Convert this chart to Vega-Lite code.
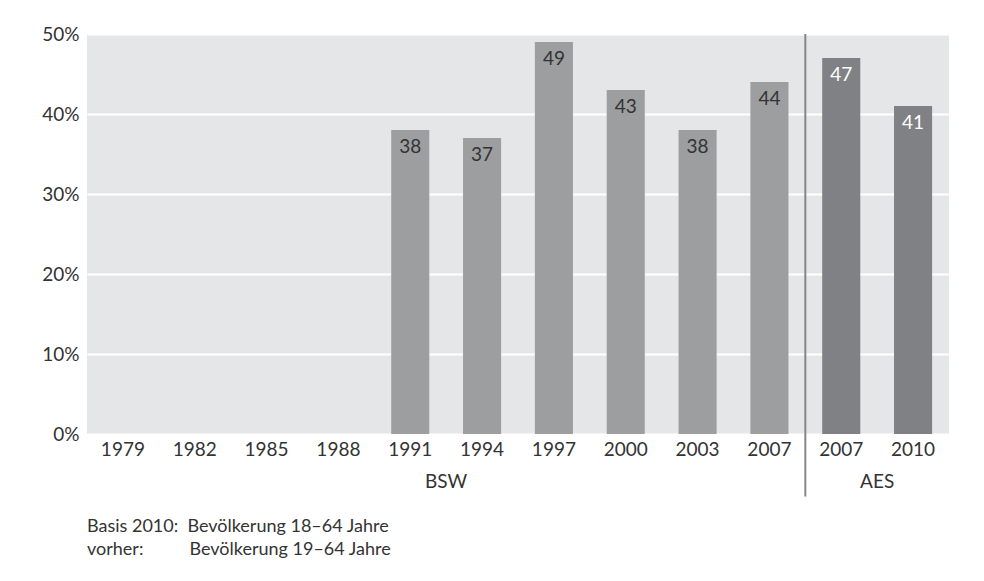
{
  "$schema": "https://vega.github.io/schema/vega-lite/v6.json",
  "autosize": {"type": "none"},
  "width": 862,
  "height": 400,
  "padding": {"left": 87, "top": 34, "right": 35, "bottom": 147},
  "background": "#ffffff",
  "config": {
    "font": "Lato",
    "view": {"fill": "#e5e6e8", "stroke": null},
    "axis": {"labelFont": "Lato", "labelColor": "#333333", "labelFontSize": 19}
  },
  "title": {
    "text": [
      "Basis 2010:\u00a0\u00a0Bevölkerung 18–64 Jahre",
      "vorher:\u00a0\u00a0\u00a0\u00a0\u00a0\u00a0\u00a0\u00a0\u00a0\u00a0Bevölkerung 19–64 Jahre"
    ],
    "orient": "bottom",
    "anchor": "start",
    "frame": "group",
    "font": "Lato",
    "fontSize": 18,
    "fontWeight": "normal",
    "color": "#333333",
    "lineHeight": 23,
    "offset": 21
  },
  "datasets": {
    "bars": [
      {"slot": "1991", "study": "BSW", "value": 38},
      {"slot": "1994", "study": "BSW", "value": 37},
      {"slot": "1997", "study": "BSW", "value": 49},
      {"slot": "2000", "study": "BSW", "value": 43},
      {"slot": "2003", "study": "BSW", "value": 38},
      {"slot": "2007 BSW", "study": "BSW", "value": 44},
      {"slot": "2007 AES", "study": "AES", "value": 47},
      {"slot": "2010", "study": "AES", "value": 41}
    ],
    "groups": [
      {"study": "BSW", "anchor": "1991"},
      {"study": "AES", "anchor": "2007 AES"}
    ]
  },
  "layer": [
    {
      "data": {"name": "bars"},
      "mark": {"type": "bar"},
      "encoding": {
        "x": {
          "field": "slot",
          "type": "nominal",
          "sort": null,
          "scale": {
            "domain": ["1979", "1982", "1985", "1988", "1991", "1994", "1997", "2000", "2003", "2007 BSW", "2007 AES", "2010"],
            "paddingInner": 0.47,
            "paddingOuter": 0.235
          },
          "axis": {
            "title": null,
            "labelAngle": 0,
            "labelPadding": 6,
            "ticks": false,
            "domain": false,
            "labelExpr": "slice(datum.label, 0, 4)"
          }
        },
        "y": {
          "field": "value",
          "type": "quantitative",
          "scale": {"domain": [0, 50], "nice": false},
          "axis": {
            "title": null,
            "values": [0, 10, 20, 30, 40, 50],
            "labelExpr": "datum.value + '%'",
            "labelPadding": 8,
            "ticks": false,
            "domain": false,
            "grid": true,
            "gridColor": "#ffffff",
            "gridWidth": 2
          }
        },
        "color": {
          "field": "study",
          "type": "nominal",
          "scale": {"domain": ["BSW", "AES"], "range": ["#9d9ea0", "#808184"]},
          "legend": null
        }
      }
    },
    {
      "data": {"name": "bars"},
      "mark": {"type": "text", "baseline": "middle", "dy": 17, "fontSize": 19},
      "encoding": {
        "x": {"field": "slot", "type": "nominal"},
        "y": {"field": "value", "type": "quantitative"},
        "text": {"field": "value", "type": "quantitative"},
        "color": {
          "condition": {"test": "datum.study === 'AES'", "value": "#ffffff"},
          "value": "#333333"
        }
      }
    },
    {
      "data": {"name": "groups"},
      "mark": {"type": "text", "baseline": "middle", "fontSize": 19, "color": "#333333"},
      "encoding": {
        "x": {"field": "anchor", "type": "nominal", "bandPosition": 1.4434},
        "y": {"datum": -6},
        "text": {"field": "study"}
      }
    },
    {
      "data": {"values": [{"edge": "2007 BSW", "top": 50, "bottom": -7.8}]},
      "mark": {"type": "rule", "color": "#858688", "strokeWidth": 2},
      "encoding": {
        "x": {"field": "edge", "type": "nominal", "bandPosition": 1.4434},
        "y": {"field": "top", "type": "quantitative"},
        "y2": {"field": "bottom"}
      }
    }
  ]
}
